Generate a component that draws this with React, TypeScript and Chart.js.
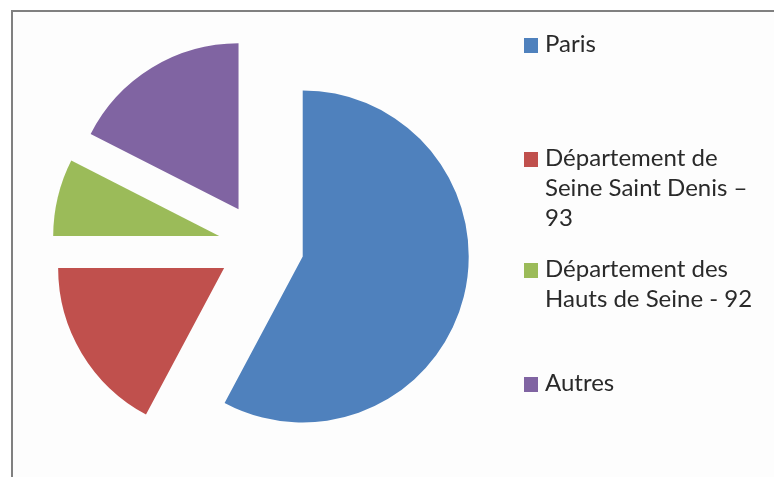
import React, { useEffect, useRef } from "react";
import { Chart, registerables } from "chart.js";

Chart.register(...registerables);

const categories = [
  "Paris",
  "Département de Seine Saint Denis – 93",
  "Département des Hauts de Seine - 92",
  "Autres",
];
const values = [57.8, 17.2, 7.5, 17.5];
const colors = ["#4F81BD", "#C0504D", "#9BBB59", "#8064A2"];
const legendLines = [
  ["Paris"],
  ["Département de", "Seine Saint Denis –", "93"],
  ["Département des", "Hauts de Seine - 92"],
  ["Autres"],
];
const legendTops = [28, 142, 253, 367];

// Keep exploded slices as pure translations (Excel style):
// compensate Chart.js's radius growth and angle shrink caused by `offset`.
const explodeFix = {
  id: "explodeFix",
  beforeDatasetDraw(chart: any, args: any) {
    args.meta.data.forEach((arc: any) => {
      const t = (arc.options.offset || 0) / 4;
      const c = arc.circumference || 0;
      const fix = 1 - Math.sin(Math.min(Math.PI, c));
      const ro = t * fix;
      arc.$saved = [arc.outerRadius, arc.startAngle, arc.endAngle];
      const R = arc.outerRadius;
      const widen = R > 0 ? ro / (Math.PI * R) / 2 : 0;
      arc.outerRadius = R - ro;
      arc.startAngle = arc.startAngle - widen;
      arc.endAngle = arc.endAngle + widen;
    });
  },
  afterDatasetDraw(chart: any, args: any) {
    args.meta.data.forEach((arc: any) => {
      if (arc.$saved) {
        arc.outerRadius = arc.$saved[0];
        arc.startAngle = arc.$saved[1];
        arc.endAngle = arc.$saved[2];
        arc.$saved = null;
      }
    });
  },
};

export default function App() {
  const ref = useRef<HTMLCanvasElement | null>(null);

  useEffect(() => {
    if (!ref.current) return;
    const chart = new Chart(ref.current, {
      type: "pie",
      data: {
        labels: categories,
        datasets: [
          {
            data: values,
            backgroundColor: colors,
            borderWidth: 0,
            offset: 172,
            hoverOffset: 0,
          },
        ],
      },
      options: {
        responsive: false,
        animation: false,
        devicePixelRatio: 1,
        radius: 166,
        layout: { padding: { left: 0, right: 252, top: 15, bottom: 0 } },
        plugins: {
          legend: { display: false },
          tooltip: { enabled: false },
        },
        events: [],
      },
      plugins: [explodeFix],
    });
    return () => chart.destroy();
  }, []);

  return (
    <div
      style={{
        position: "absolute",
        left: 0,
        top: 0,
        width: 774,
        height: 477,
        background: "#ffffff",
        overflow: "hidden",
      }}
    >
      <div
        style={{
          position: "absolute",
          left: 11,
          top: 10,
          right: -4,
          bottom: -4,
          borderLeft: "2px solid #808080",
          borderTop: "2px solid #808080",
          background: "#fdfdfd",
        }}
      />
      <canvas
        ref={ref}
        width={774}
        height={477}
        style={{ position: "absolute", left: 0, top: 0, width: 774, height: 477 }}
      />
      {legendLines.map((lines, i) => (
        <React.Fragment key={i}>
          <div
            style={{
              position: "absolute",
              left: 524,
              top: legendTops[i] + 10,
              width: 14,
              height: 15,
              background: colors[i],
            }}
          />
          <div
            style={{
              position: "absolute",
              left: 545,
              top: legendTops[i],
              fontFamily: "Lato, 'Open Sans', sans-serif",
              fontSize: 24,
              lineHeight: "30px",
              color: "#2a2a2a",
              whiteSpace: "nowrap",
            }}
          >
            {lines.map((l, j) => (
              <div key={j}>{l}</div>
            ))}
          </div>
        </React.Fragment>
      ))}
    </div>
  );
}
